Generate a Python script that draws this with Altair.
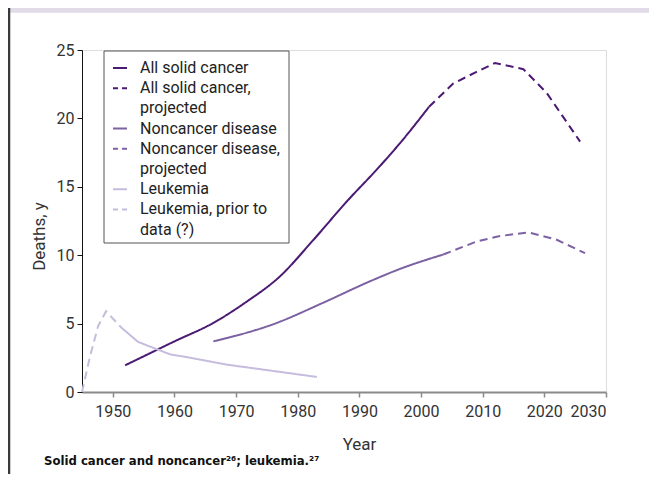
import altair as alt
import pandas as pd

# ---- data ----
solid_years = [1952, 1960, 1966.3, 1971.7, 1977.1, 1982.5, 1987.9, 1993.3, 1996.6, 2001.3]
solid_vals = [1.95, 3.7, 5.05, 6.6, 8.45, 11.1, 13.9, 16.5, 18.2, 20.85]
solid_proj_years = [2001.3, 2005.2, 2009.0, 2012.0, 2016.6, 2020.4, 2025.8]
solid_proj_vals = [20.85, 22.55, 23.4, 24.05, 23.6, 21.85, 18.3]
nonc_years = [1966.3, 1976.3, 1984.0, 1991.5, 1996.6, 2003.6]
nonc_vals = [3.7, 5.0, 6.5, 8.05, 9.0, 10.05]
nonc_proj_years = [2003.6, 2009.0, 2012.8, 2017.4, 2022.0, 2026.6]
nonc_proj_vals = [10.05, 11.0, 11.4, 11.67, 11.13, 10.15]
leuk_years = [1951.4, 1954.1, 1959.3, 1962.0, 1968.5, 1975.0, 1983.1]
leuk_vals = [4.7, 3.66, 2.75, 2.55, 2.0, 1.6, 1.1]
leuk_prior_years = [1945.0, 1946.3, 1947.6, 1948.9, 1951.4]
leuk_prior_vals = [0.0, 2.6, 4.8, 5.9, 4.7]

series_names = ["All solid cancer", "All solid cancer, projected",
                "Noncancer disease", "Noncancer disease, projected",
                "Leukemia", "Leukemia, prior to data (?)"]
legend_lines = [["All solid cancer"], ["All solid cancer,", "projected"],
                ["Noncancer disease"], ["Noncancer disease,", "projected"],
                ["Leukemia"], ["Leukemia, prior to", "data (?)"]]
series_colors = ["#4b1a72", "#4b1a72", "#7d62a3", "#7d62a3", "#c6bcdd", "#c6bcdd"]
series_dashed = [False, True, False, True, False, True]
x_ticks = [1950, 1960, 1970, 1980, 1990, 2000, 2010, 2020, 2030]
y_ticks = [0, 5, 10, 15, 20, 25]
x_title = "Year"
y_title = "Deaths, y"
footnote = "Solid cancer and noncancer\u00b2\u2076; leukemia.\u00b2\u2077"

FONT = "Roboto"
NOTE_FONT = "'DejaVu Sans Condensed', 'Roboto Condensed', 'Liberation Sans Narrow', Roboto, sans-serif"
W, H = 524, 342
PAD = {"left": 74, "top": 42, "right": 43, "bottom": 82}

all_x = [solid_years, solid_proj_years, nonc_years, nonc_proj_years, leuk_years, leuk_prior_years]
all_y = [solid_vals, solid_proj_vals, nonc_vals, nonc_proj_vals, leuk_vals, leuk_prior_vals]

rows = []
for name, xs, ys in zip(series_names, all_x, all_y):
    for i, (xv, yv) in enumerate(zip(xs, ys)):
        rows.append({"series": name, "year": xv, "deaths": yv, "order": i})
df = pd.DataFrame(rows)

xscale = alt.Scale(domain=[1945, 2030], nice=False, zero=False)
yscale = alt.Scale(domain=[0, 25], nice=False)

xaxis = alt.Axis(values=x_ticks, format="d", title=x_title, grid=False,
                 domainColor="#8a8a8a", domainWidth=2, tickColor="#8a8a8a", tickWidth=1.5,
                 tickSize=5, labelPadding=6, labelFontSize=16, labelColor="#333333",
                 titleFontSize=17, titleFontWeight="normal", titleColor="#333333",
                 titleX=277, titleY=52, titleBaseline="middle", labelFont=FONT, titleFont=FONT)
yaxis = alt.Axis(values=y_ticks, title=y_title, grid=False,
                 domainColor="#111111", domainWidth=1, tickColor="#111111", tickSize=5,
                 labelPadding=3, labelFontSize=16, labelColor="#333333",
                 titleFontSize=17, titleFontWeight="normal", titleColor="#333333",
                 titleX=-43, titleY=186, titleBaseline="middle", labelFont=FONT, titleFont=FONT)

color_scale = alt.Scale(domain=series_names, range=series_colors)
dash_scale = alt.Scale(domain=series_names,
                       range=[[8, 5] if d else [1, 0] for d in series_dashed])

base = alt.Chart(df).encode(
    x=alt.X("year:Q", scale=xscale, axis=xaxis),
    y=alt.Y("deaths:Q", scale=yscale, axis=yaxis),
    color=alt.Color("series:N", scale=color_scale, legend=None),
    strokeDash=alt.StrokeDash("series:N", scale=dash_scale, legend=None),
    order="order:Q",
)
smooth_lines = base.transform_filter(
    alt.FieldOneOfPredicate(field="series", oneOf=[series_names[0], series_names[2]])
).mark_line(strokeWidth=2, interpolate="monotone")
plain_lines = base.transform_filter(
    alt.FieldOneOfPredicate(field="series", oneOf=[series_names[1], series_names[3],
                                                   series_names[4], series_names[5]])
).mark_line(strokeWidth=2)

layers = []

# title bar remnant and left border
one = pd.DataFrame({"k": [0]})
layers.append(alt.Chart(one).mark_rect(color="#e1dbe7").encode(
    x=alt.value(-PAD["left"]), x2=alt.value(W + PAD["right"]),
    y=alt.value(-PAD["top"]), y2=alt.value(-PAD["top"] + 4.7)))
layers.append(alt.Chart(one).mark_rule(color="#3a3a3a", strokeWidth=2.5).encode(
    x=alt.value(-PAD["left"] + 1), y=alt.value(-PAD["top"]), y2=alt.value(H + PAD["bottom"])))

layers += [smooth_lines, plain_lines]

# legend box
layers.append(alt.Chart(one).mark_rect(fill="white", stroke="#555555", strokeWidth=1).encode(
    x=alt.value(22), x2=alt.value(207), y=alt.value(1), y2=alt.value(193)))
line_y = 18
LH = 20.2
for name, lines, col, dashed in zip(series_names, legend_lines, series_colors, series_dashed):
    layers.append(alt.Chart(one).mark_rule(color=col, strokeWidth=2,
                                           strokeDash=[5, 4] if dashed else [1, 0]).encode(
        x=alt.value(31), x2=alt.value(45), y=alt.value(line_y), y2=alt.value(line_y)))
    for j, txt in enumerate(lines):
        layers.append(alt.Chart(pd.DataFrame({"t": [txt]})).mark_text(
            align="left", baseline="middle", font=FONT, fontSize=16, color="#222222").encode(
            x=alt.value(58), y=alt.value(line_y + j * LH), text="t:N"))
    line_y += LH * len(lines)

# footnote
layers.append(alt.Chart(pd.DataFrame({"t": [footnote]})).mark_text(
    align="left", baseline="middle", font=NOTE_FONT, fontWeight="bold",
    fontSize=13, color="#111111").encode(
    x=alt.value(-38), y=alt.value(411), text="t:N"))

chart = alt.layer(*layers).properties(
    width=W, height=H,
    autosize=alt.AutoSizeParams(type="none"),
    padding=PAD,
).configure_view(stroke=None).configure(background="white")

chart.save("out.html", embed_options={"renderer": "svg", "actions": False})
